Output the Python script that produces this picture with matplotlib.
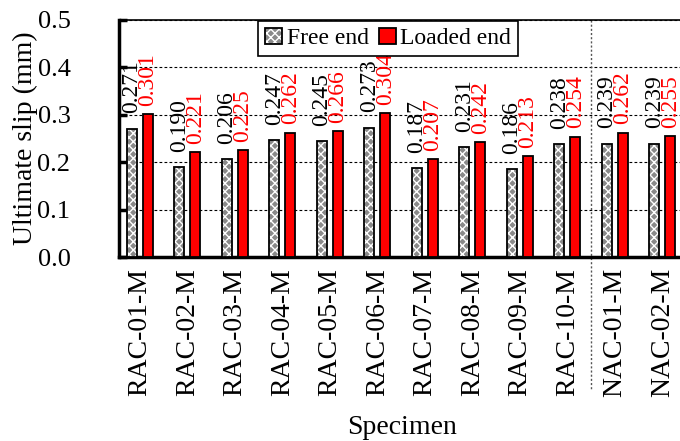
import numpy as np
import matplotlib.pyplot as plt
from matplotlib.patches import Patch

plt.rcParams['font.family'] = ['Liberation Serif', 'DejaVu Serif']
plt.rcParams['hatch.linewidth'] = 1.0

specimens = ['RAC-01-M', 'RAC-02-M', 'RAC-03-M', 'RAC-04-M', 'RAC-05-M', 'RAC-06-M',
             'RAC-07-M', 'RAC-08-M', 'RAC-09-M', 'RAC-10-M', 'NAC-01-M', 'NAC-02-M']
free_end = [0.271, 0.190, 0.206, 0.247, 0.245, 0.273, 0.187, 0.231, 0.186, 0.238, 0.239, 0.239]
loaded_end = [0.301, 0.221, 0.225, 0.262, 0.266, 0.304, 0.207, 0.242, 0.213, 0.254, 0.262, 0.255]

x = np.arange(len(specimens))
w = 0.21
off = 0.17

fig = plt.figure(figsize = (6.8, 4.41), dpi = 100)
ax = fig.add_axes([0.175, 0.417, 0.935, 0.538])

# hatched fill first, black outline on top
ax.bar(x - off, free_end, w, color = '#8a8a8a', edgecolor = 'white', hatch = 'xxxx', linewidth = 0, zorder = 3)
ax.bar(x - off, free_end, w, fill = False, edgecolor = 'black', linewidth = 1.3, zorder = 4)
ax.bar(x + off, loaded_end, w, color = 'red', edgecolor = 'black', linewidth = 1.3, zorder = 4)

for i in range(len(specimens)):
	ax.annotate('%.3f' % free_end[i], (x[i] - off, free_end[i]), xytext = (0, 11), textcoords = 'offset points',
				rotation = 90, ha = 'center', va = 'bottom', fontsize = 17, color = 'black', zorder = 5)
	ax.annotate('%.3f' % loaded_end[i], (x[i] + off, loaded_end[i]), xytext = (0, 6), textcoords = 'offset points',
				rotation = 90, ha = 'center', va = 'bottom', fontsize = 17, color = 'red', zorder = 5)

# separator between RAC and NAC groups
ax.plot([9.5, 9.5], [0.5, -0.28], color = '#555555', linestyle = (0, (1.5, 1.5)), linewidth = 1.0, clip_on = False, zorder = 2)

ax.set_xlim(-0.44, 12.95)
ax.set_ylim(0, 0.5)
ax.set_yticks([0.0, 0.1, 0.2, 0.3, 0.4, 0.5])
ax.set_yticklabels(['0.0', '0.1', '0.2', '0.3', '0.4', '0.5'])
ax.yaxis.grid(True, color = 'black', linestyle = (0, (2.5, 2)), linewidth = 0.8)
ax.set_axisbelow(True)

ax.set_xticks(x)
ax.set_xticklabels(specimens, rotation = 90, fontsize = 20)
ax.tick_params(axis = 'x', length = 0, pad = 8)
ax.tick_params(axis = 'y', direction = 'in', length = 6, width = 2.5, labelsize = 19, pad = 35)

ax.spines['left'].set_linewidth(2.5)
ax.spines['bottom'].set_linewidth(2.5)
ax.spines['top'].set_linewidth(1.2)
ax.spines['right'].set_visible(False)

ax.set_ylabel('Ultimate slip (mm)', fontsize = 20)
ax.yaxis.set_label_coords(-0.128, 0.5)
ax.set_xlabel('Specimen', fontsize = 20)
ax.xaxis.set_label_coords(0.445, -0.665)

free_handle = (Patch(facecolor = '#8a8a8a', edgecolor = 'white', hatch = 'xxxx', linewidth = 0),
			   Patch(fill = False, edgecolor = 'black', linewidth = 1.3))
loaded_handle = Patch(facecolor = 'red', edgecolor = 'black', linewidth = 1.3)
leg = ax.legend([free_handle, loaded_handle], ['Free end', 'Loaded end'], loc = 'upper left',
				bbox_to_anchor = (0.219, 0.997), ncol = 2, fontsize = 17, frameon = True, fancybox = False,
				handlelength = 0.7, handleheight = 0.7, handletextpad = 0.2, columnspacing = 0.45,
				borderpad = 0.3, borderaxespad = 0)
leg.get_frame().set_edgecolor('black')
leg.get_frame().set_linewidth(1.2)
leg.get_frame().set_alpha(1)

fig.savefig('out.png', dpi = 100)
